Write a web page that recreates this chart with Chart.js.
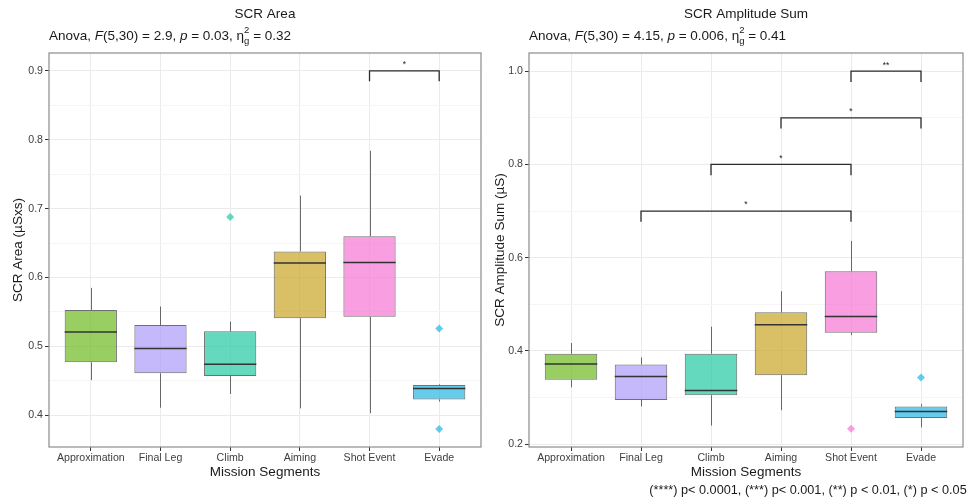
<!DOCTYPE html>
<html>
<head>
<meta charset="utf-8">
<title>SCR by mission segment</title>
<script src="https://cdn.jsdelivr.net/npm/chart.js@4.4.1/dist/chart.umd.min.js"></script>
<style>
  html, body { margin: 0; padding: 0; background: #ffffff; }
  #wrap { position: relative; width: 970px; height: 501px; overflow: hidden; }
  .panel { position: absolute; top: 0; width: 485px; height: 501px; }
</style>
</head>
<body>
<div id="wrap">
  <div class="panel" style="left:0"><canvas id="area" width="485" height="501"></canvas></div>
  <div class="panel" style="left:485px"><canvas id="amp" width="485" height="501"></canvas></div>
</div>
<script>
// Mission segments (x categories) and their box fills
const segments = ['Approximation', 'Final Leg', 'Climb', 'Aiming', 'Shot Event', 'Evade'];
const segmentFills = [
  'rgba(109,186,32,0.7)',
  'rgba(172,155,249,0.7)',
  'rgba(36,201,162,0.7)',
  'rgba(201,164,36,0.7)',
  'rgba(248,117,214,0.7)',
  'rgba(36,182,227,0.7)'
];

// SCR Area (µSxs): five-number summaries per segment
const areaMin    = [0.451, 0.411, 0.431, 0.410, 0.403, 0.420];
const areaQ1     = [0.477, 0.461, 0.457, 0.541, 0.543, 0.423];
const areaMedian = [0.521, 0.497, 0.474, 0.621, 0.622, 0.439];
const areaQ3     = [0.553, 0.531, 0.522, 0.638, 0.660, 0.444];
const areaMax    = [0.585, 0.558, 0.536, 0.719, 0.784, 0.445];
const areaOutlierSeg = ['Climb', 'Evade', 'Evade'];
const areaOutlierVal = [0.688, 0.526, 0.380];
const areaTicks      = [0.4, 0.5, 0.6, 0.7, 0.8, 0.9];
const areaMinorTicks = [0.45, 0.55, 0.65, 0.75, 0.85];
const areaBracketFrom  = ['Shot Event'];
const areaBracketTo    = ['Evade'];
const areaBracketY     = [0.9];
const areaBracketLabel = ['*'];

// SCR Amplitude Sum (µS): five-number summaries per segment
const ampMin    = [0.322, 0.281, 0.240, 0.273, 0.434, 0.236];
const ampQ1     = [0.338, 0.295, 0.305, 0.348, 0.439, 0.256];
const ampMedian = [0.372, 0.345, 0.315, 0.456, 0.474, 0.270];
const ampQ3     = [0.394, 0.371, 0.394, 0.483, 0.571, 0.281];
const ampMax    = [0.417, 0.386, 0.452, 0.528, 0.636, 0.286];
const ampOutlierSeg = ['Shot Event', 'Evade'];
const ampOutlierVal = [0.233, 0.343];
const ampTicks      = [0.2, 0.4, 0.6, 0.8, 1.0];
const ampMinorTicks = [0.3, 0.5, 0.7, 0.9];
const ampBracketFrom  = ['Final Leg', 'Climb', 'Aiming', 'Shot Event'];
const ampBracketTo    = ['Shot Event', 'Shot Event', 'Evade', 'Evade'];
const ampBracketY     = [0.7, 0.8, 0.9, 1.0];
const ampBracketLabel = ['*', '*', '*', '**'];

const FONT = '"Liberation Sans", Arial, Helvetica, sans-serif';
const TEXT = '#1a1a1a';
const TICK_TEXT = '#404040';

function segIndex(name) { return segments.indexOf(name) + 1; }

// Draws a run of text pieces; 'eta' pieces get a stacked ^2 / _g
function drawRichText(ctx, pieces, x, baseline, size) {
  let cx = x;
  ctx.textAlign = 'left';
  ctx.textBaseline = 'alphabetic';
  pieces.forEach(([txt, style]) => {
    if (style === 'eta') {
      ctx.font = size + 'px ' + FONT;
      ctx.fillText('\u03B7', cx, baseline);
      cx += ctx.measureText('\u03B7').width;
      const small = Math.round(size * 0.7 * 10) / 10;
      ctx.font = small + 'px ' + FONT;
      ctx.fillText('2', cx, baseline - 7);
      ctx.fillText('g', cx, baseline + 4.5);
      cx += Math.max(ctx.measureText('2').width, ctx.measureText('g').width);
    } else {
      ctx.font = (style === 'i' ? 'italic ' : '') + size + 'px ' + FONT;
      ctx.fillText(txt, cx, baseline);
      cx += ctx.measureText(txt).width;
    }
  });
}

function makeDecor(cfg) {
  return {
    id: 'decor_' + cfg.id,
    beforeDatasetsDraw(chart) {
      // whiskers, from box edges out to the extremes
      const { ctx, scales: { x, y } } = chart;
      ctx.save();
      ctx.strokeStyle = 'rgba(51,51,51,0.72)';
      ctx.lineWidth = 1;
      cfg.min.forEach((mn, i) => {
        const px = Math.round(x.getPixelForValue(i + 1)) + 0.5;
        ctx.beginPath();
        ctx.moveTo(px, y.getPixelForValue(cfg.max[i]));
        ctx.lineTo(px, y.getPixelForValue(cfg.q3[i]));
        ctx.moveTo(px, y.getPixelForValue(cfg.q1[i]));
        ctx.lineTo(px, y.getPixelForValue(mn));
        ctx.stroke();
      });
      ctx.restore();
    },
    afterDatasetsDraw(chart) {
      const { ctx, scales: { x, y }, chartArea } = chart;
      const bars = chart.getDatasetMeta(0).data;
      ctx.save();
      // medians
      ctx.strokeStyle = '#333333';
      ctx.lineWidth = 1.5;
      cfg.median.forEach((m, i) => {
        const bar = bars[i];
        const py = y.getPixelForValue(m);
        ctx.beginPath();
        ctx.moveTo(bar.x - bar.width / 2, py);
        ctx.lineTo(bar.x + bar.width / 2, py);
        ctx.stroke();
      });
      // significance stars above brackets
      ctx.fillStyle = '#222222';
      ctx.font = '8.5px ' + FONT;
      ctx.textAlign = 'center';
      ctx.textBaseline = 'middle';
      cfg.brFrom.forEach((f, k) => {
        const mid = (segIndex(f) + segIndex(cfg.brTo[k])) / 2;
        ctx.fillText(cfg.brLabel[k], x.getPixelForValue(mid), y.getPixelForValue(cfg.brY[k]) - 6);
      });
      // panel border
      ctx.strokeStyle = '#8c8c8c';
      ctx.lineWidth = 1.2;
      ctx.strokeRect(chartArea.left, chartArea.top, chartArea.right - chartArea.left, chartArea.bottom - chartArea.top);
      ctx.restore();
    },
    afterDraw(chart) {
      const { ctx, chartArea } = chart;
      ctx.save();
      ctx.fillStyle = TEXT;
      ctx.font = '13.5px ' + FONT;
      ctx.textAlign = 'center';
      ctx.textBaseline = 'middle';
      ctx.fillText(cfg.title, (chartArea.left + chartArea.right) / 2, 14);
      drawRichText(ctx, cfg.subtitle, chartArea.left, 39.5, 13.5);
      if (cfg.footnote) {
        ctx.font = '12.7px ' + FONT;
        ctx.textAlign = 'right';
        ctx.textBaseline = 'middle';
        ctx.fillText(cfg.footnote, chart.width - 3.3, 490);
      }
      ctx.restore();
    }
  };
}

function buildChart(cfg) {
  const isMajor = v => cfg.ticks.some(t => Math.abs(t - v) < 1e-9);
  const datasets = [
    {
      type: 'bar',
      data: segments.map((s, i) => ({ x: i + 1, y: [cfg.q1[i], cfg.q3[i]] })),
      backgroundColor: segmentFills,
      borderColor: 'rgba(51,51,51,0.7)',
      borderWidth: 1,
      borderSkipped: false,
      barPercentage: 0.75,
      categoryPercentage: 1,
      order: 3
    },
    {
      type: 'scatter',
      data: cfg.outSeg.map((s, k) => ({ x: segIndex(s), y: cfg.outVal[k] })),
      pointStyle: 'rectRot',
      pointRadius: 4,
      pointBackgroundColor: cfg.outSeg.map(s => segmentFills[segIndex(s) - 1]),
      pointBorderWidth: 0,
      order: 2
    }
  ];
  cfg.brFrom.forEach((f, k) => {
    const a = segIndex(f), b = segIndex(cfg.brTo[k]), yv = cfg.brY[k];
    datasets.push({
      type: 'line',
      data: [{ x: a, y: yv - cfg.tip }, { x: a, y: yv }, { x: b, y: yv }, { x: b, y: yv - cfg.tip }],
      borderColor: '#2b2b2b',
      borderWidth: 1.3,
      pointRadius: 0,
      fill: false,
      tension: 0,
      order: 1
    });
  });

  return new Chart(document.getElementById(cfg.id), {
    type: 'bar',
    data: { datasets },
    plugins: [makeDecor(cfg)],
    options: {
      responsive: false,
      animation: false,
      events: [],
      layout: { padding: { top: 53, right: cfg.padRight, bottom: 21, left: 0 } },
      plugins: { legend: { display: false }, tooltip: { enabled: false }, title: { display: false } },
      scales: {
        x: {
          type: 'linear',
          min: 0.4,
          max: 6.6,
          offset: false,
          afterBuildTicks: s => { s.ticks = segments.map((_, i) => ({ value: i + 1 })); },
          afterFit: s => { s.height = 33; },
          grid: { offset: false, color: '#ebebeb', lineWidth: 1, tickColor: '#333333', tickLength: 4 },
          border: { display: false },
          ticks: {
            autoSkip: false, maxRotation: 0, padding: 1,
            color: TICK_TEXT, font: { family: FONT, size: 10.6 },
            callback: v => segments[Math.round(v) - 1] || ''
          },
          title: { display: true, text: 'Mission Segments', color: TEXT, font: { family: FONT, size: 13.5 }, padding: { top: 0, bottom: 0 } }
        },
        y: {
          type: 'linear',
          min: cfg.yMin,
          max: cfg.yMax,
          beginAtZero: false,
          afterBuildTicks: s => {
            s.ticks = cfg.ticks.concat(cfg.minor).sort((a, b) => a - b).map(v => ({ value: v }));
          },
          afterFit: s => { s.width = cfg.yWidth; },
          grid: {
            color: c => (c.tick && isMajor(c.tick.value)) ? '#ebebeb' : '#f5f5f5',
            tickColor: c => (c.tick && isMajor(c.tick.value)) ? '#333333' : 'rgba(0,0,0,0)',
            lineWidth: 1,
            tickLength: 4
          },
          border: { display: false },
          ticks: {
            autoSkip: false, padding: 2,
            color: TICK_TEXT, font: { family: FONT, size: 10.6 },
            callback: v => isMajor(v) ? v.toFixed(1) : ''
          },
          title: { display: true, text: cfg.yTitle, color: TEXT, font: { family: FONT, size: 13.5 }, padding: { top: cfg.yTitlePad, bottom: 0 } }
        }
      }
    }
  });
}

buildChart({
  id: 'area',
  title: 'SCR Area',
  subtitle: [['Anova, ', 'n'], ['F', 'i'], ['(5,30) = 2.9, ', 'n'], ['p', 'i'], [' = 0.03, ', 'n'], ['', 'eta'], [' = 0.32', 'n']],
  yTitle: 'SCR Area (\u00B5Sxs)',
  min: areaMin, q1: areaQ1, median: areaMedian, q3: areaQ3, max: areaMax,
  outSeg: areaOutlierSeg, outVal: areaOutlierVal,
  ticks: areaTicks, minor: areaMinorTicks,
  brFrom: areaBracketFrom, brTo: areaBracketTo, brY: areaBracketY, brLabel: areaBracketLabel,
  tip: 0.015,
  yMin: 0.354, yMax: 0.926,
  yWidth: 49, yTitlePad: 10, padRight: 2,
  footnote: null
});

buildChart({
  id: 'amp',
  title: 'SCR Amplitude Sum',
  subtitle: [['Anova, ', 'n'], ['F', 'i'], ['(5,30) = 4.15, ', 'n'], ['p', 'i'], [' = 0.006, ', 'n'], ['', 'eta'], [' = 0.41', 'n']],
  yTitle: 'SCR Amplitude Sum (\u00B5S)',
  min: ampMin, q1: ampQ1, median: ampMedian, q3: ampQ3, max: ampMax,
  outSeg: ampOutlierSeg, outVal: ampOutlierVal,
  ticks: ampTicks, minor: ampMinorTicks,
  brFrom: ampBracketFrom, brTo: ampBracketTo, brY: ampBracketY, brLabel: ampBracketLabel,
  tip: 0.023,
  yMin: 0.194, yMax: 1.039,
  yWidth: 44, yTitlePad: 7, padRight: 7,
  footnote: '(****) p< 0.0001, (***) p< 0.001, (**) p < 0.01, (*) p < 0.05'
});
</script>
</body>
</html>
